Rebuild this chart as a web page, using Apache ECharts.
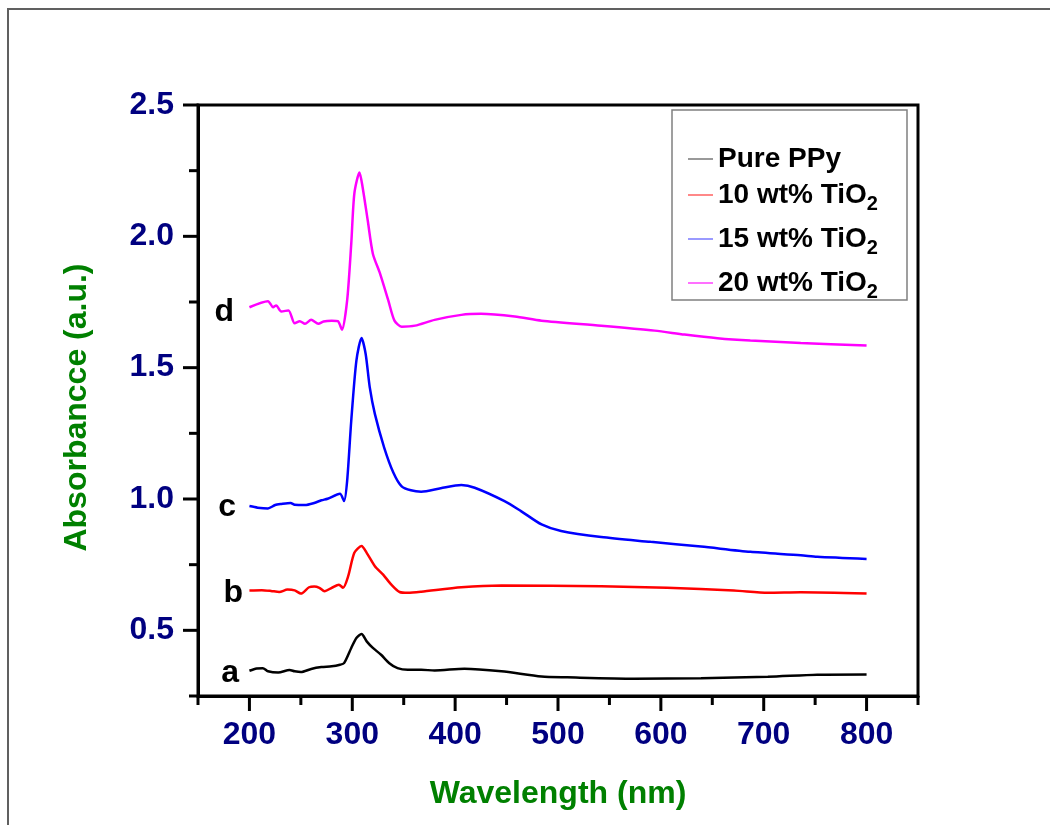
<!DOCTYPE html>
<html>
<head>
<meta charset="utf-8">
<script src="https://cdn.jsdelivr.net/npm/echarts@6/dist/echarts.min.js"></script>
<style>html,body{margin:0;padding:0;background:#fff}#c{width:1050px;height:825px}</style>
</head>
<body>
<div id="c"></div>
<script>
// ---- data ----
const seriesNames = ['Pure PPy', '10 wt% TiO2', '15 wt% TiO2', '20 wt% TiO2'];
const curveLetters = ['a', 'b', 'c', 'd'];

const wlA = [200,207,213,218,228,239,244,250,260,270,280,288,292,299,304,309,314,320,328,336,344,354,367,380,409,445,484,509,574,639,704,752,800];
const absA = [0.346,0.355,0.356,0.344,0.339,0.349,0.344,0.341,0.353,0.360,0.363,0.369,0.375,0.433,0.471,0.486,0.458,0.433,0.407,0.375,0.356,0.350,0.350,0.347,0.354,0.344,0.324,0.321,0.316,0.318,0.323,0.331,0.332];

const wlB = [200,212,221,229,237,244,250,258,263,268,273,280,287,291,296,302,309,314,322,330,338,346,354,367,406,445,542,606,671,704,736,800];
const absB = [0.652,0.653,0.650,0.646,0.655,0.652,0.640,0.664,0.667,0.662,0.649,0.662,0.674,0.662,0.706,0.795,0.821,0.795,0.744,0.712,0.674,0.646,0.643,0.647,0.664,0.671,0.668,0.662,0.652,0.643,0.645,0.640];

const wlC = [200,208,218,225,231,240,244,254,263,270,276,288,292,295,299,304,309,313,317,322,331,340,348,357,367,386,406,419,448,464,484,503,542,590,639,687,736,752,800];
const absC = [0.973,0.967,0.964,0.977,0.981,0.985,0.978,0.977,0.985,0.995,1.001,1.020,0.992,1.069,1.298,1.527,1.613,1.552,1.425,1.323,1.196,1.100,1.048,1.033,1.028,1.041,1.053,1.043,0.992,0.954,0.903,0.878,0.855,0.837,0.819,0.799,0.786,0.780,0.772];

const wlD = [200,218,223,226,231,238,244,249,254,260,267,272,280,286,290,295,299,302,307,310,315,320,327,335,341,348,361,380,406,425,458,484,542,594,623,655,687,736,800];
const absD = [1.730,1.753,1.730,1.737,1.714,1.718,1.669,1.677,1.667,1.682,1.667,1.676,1.679,1.677,1.644,1.756,1.972,2.163,2.243,2.188,2.061,1.934,1.858,1.756,1.679,1.656,1.660,1.682,1.701,1.705,1.695,1.679,1.660,1.641,1.626,1.612,1.603,1.594,1.584];

const X_MIN = 150, X_MAX = 850, Y_MIN = 0.25, Y_MAX = 2.5;
const xMajorTicks = [200,300,400,500,600,700,800];
const xMinorTicks = [150,250,350,450,550,650,750,850];
const yMajorTicks = [0.5,1.0,1.5,2.0,2.5];
const yMinorTicks = [0.25,0.75,1.25,1.75,2.25];

// ---- styling ----
const FONT = "'Liberation Sans', Arial, sans-serif";
const colors = ['#000000', '#ff0000', '#0000ff', '#ff00ff'];
const legendColors = ['#777777', '#ff6060', '#7878ff', '#ff40ff'];
const labelDist = [10, 6, 13, 15];
const labelOffY = [2, 3, 1, 5];
const MAJOR_LEN = 15, MINOR_LEN = 9;

const wls = [wlA, wlB, wlC, wlD];
const abss = [absA, absB, absC, absD];

function buildData(i) {
  return wls[i].map((x, k) => [x, abss[i][k]]);
}

function legendFmt(name) {
  if (name.endsWith('TiO2')) return '{t|' + name.slice(0, -1) + '}{s|2}';
  return '{p|' + name + '}';
}

function tickSeries(values, dim, len) {
  return {
    type: 'custom', xAxisIndex: 0, yAxisIndex: 0, silent: true, clip: false, z: 5,
    data: values.map(v => dim === 'x' ? [v, Y_MIN] : [X_MIN, v]),
    renderItem: (params, api) => {
      const p = api.coord([api.value(0), api.value(1)]);
      const x2 = dim === 'x' ? p[0] : p[0] - len;
      const y2 = dim === 'x' ? p[1] + len : p[1];
      return { type: 'line', shape: { x1: p[0], y1: p[1], x2: x2, y2: y2 }, style: { stroke: '#000', lineWidth: 3 } };
    }
  };
}

const chart = echarts.init(document.getElementById('c'), null, { renderer: 'canvas' });

const lineSeries = seriesNames.map((n, i) => ({
  name: n, type: 'line', xAxisIndex: 0, yAxisIndex: 0,
  data: buildData(i),
  showSymbol: false, symbol: 'none', smooth: 0.25,
  lineStyle: { color: colors[i], width: 2.5 },
  itemStyle: { color: colors[i] },
  emphasis: { disabled: true },
  z: 3,
  markPoint: {
    silent: true, symbol: 'circle', symbolSize: 1,
    itemStyle: { color: 'rgba(0,0,0,0)' },
    label: {
      show: true, position: 'left', distance: labelDist[i], offset: [0, labelOffY[i]],
      formatter: curveLetters[i], color: '#000', fontSize: 32, fontWeight: 'bold', fontFamily: FONT
    },
    data: [{ coord: [wls[i][0], abss[i][0]] }]
  }
}));

chart.setOption({
  backgroundColor: '#ffffff',
  animation: false,
  grid: { left: 198, top: 105, right: 132, bottom: 129, show: true, borderColor: '#000', borderWidth: 3, backgroundColor: 'transparent' },
  graphic: [
    { type: 'rect', shape: { x: 8, y: 9, width: 1100, height: 900 }, style: { fill: 'none', stroke: '#606060', lineWidth: 2 }, silent: true },
    { type: 'rect', shape: { x: 672, y: 110, width: 235, height: 190 }, style: { fill: 'none', stroke: '#808080', lineWidth: 1.5 }, silent: true }
  ],
  legend: {
    orient: 'vertical', left: 688, top: 145, padding: 0, itemGap: 0,
    itemWidth: 25, itemHeight: 1.5, icon: 'rect',
    data: seriesNames.map((n, i) => ({ name: n, itemStyle: { color: legendColors[i] } })),
    formatter: legendFmt,
    textStyle: {
      fontFamily: FONT, color: '#000', fontWeight: 'bold', fontSize: 28,
      rich: {
        p: { fontFamily: FONT, fontWeight: 'bold', fontSize: 28, lineHeight: 24, color: '#000' },
        t: { fontFamily: FONT, fontWeight: 'bold', fontSize: 28, lineHeight: 44, color: '#000' },
        s: { fontFamily: FONT, fontWeight: 'bold', fontSize: 20, lineHeight: 20, padding: [21, 0, 3, 0], color: '#000' }
      }
    }
  },
  xAxis: [{
    type: 'value', min: X_MIN, max: X_MAX, position: 'bottom',
    axisLine: { show: true, lineStyle: { color: '#000', width: 3 } },
    axisTick: { show: false },
    axisLabel: { show: true, customValues: xMajorTicks, color: '#000080', fontSize: 32, fontWeight: 'bold', fontFamily: FONT, margin: 23 },
    splitLine: { show: false },
    name: 'Wavelength (nm)', nameLocation: 'middle', nameGap: 82,
    nameTextStyle: { color: '#008000', fontSize: 32, fontWeight: 'bold', fontFamily: FONT }
  }],
  yAxis: [{
    type: 'value', min: Y_MIN, max: Y_MAX, position: 'left',
    axisLine: { show: true, lineStyle: { color: '#000', width: 3 } },
    axisTick: { show: false },
    axisLabel: { show: true, customValues: yMajorTicks, formatter: v => v.toFixed(1), color: '#000080', fontSize: 32, fontWeight: 'bold', fontFamily: FONT, margin: 24 },
    splitLine: { show: false },
    name: 'Absorbancce (a.u.)', nameLocation: 'middle', nameGap: 105,
    nameTextStyle: { color: '#008000', fontSize: 32, fontWeight: 'bold', fontFamily: FONT, padding: [0, 14, 0, 0] }
  }],
  series: lineSeries.concat([
    tickSeries(xMajorTicks, 'x', MAJOR_LEN),
    tickSeries(xMinorTicks, 'x', MINOR_LEN),
    tickSeries(yMajorTicks, 'y', MAJOR_LEN),
    tickSeries(yMinorTicks, 'y', MINOR_LEN)
  ])
});
</script>
</body>
</html>
